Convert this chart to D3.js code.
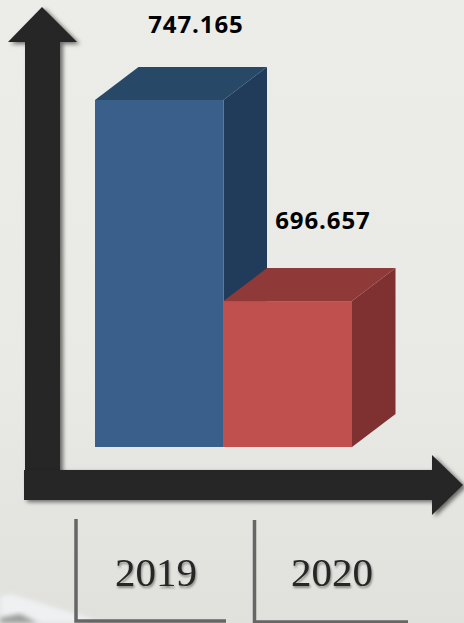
<!DOCTYPE html>
<html><head><meta charset="utf-8">
<script src="https://cdn.jsdelivr.net/npm/d3@7"></script>
<style>html,body{margin:0;padding:0;background:#e9e9e5;overflow:hidden}svg{display:block}</style>
</head><body><svg id="c" width="464" height="623"></svg>
<script>
const categories = ["2019", "2020"];
const values = [747.165, 696.657];
const valueLabels = ["747.165", "696.657"];
const frontColors = ["#3a5f8b", "#c0504d"];
const topColors = ["#274866", "#8f3a38"];
const sideColors = ["#213c5a", "#7e3130"];

const W = 464, H = 623;
const svg = d3.select("#c").attr("viewBox", [0, 0, W, H]);
const defs = svg.append("defs");

const bg = defs.append("linearGradient").attr("id", "bg").attr("x1", 0).attr("y1", 0).attr("x2", 0).attr("y2", 1);
bg.append("stop").attr("offset", 0).attr("stop-color", "#ecece8");
bg.append("stop").attr("offset", 0.6).attr("stop-color", "#e9e9e5");
bg.append("stop").attr("offset", 1).attr("stop-color", "#e0e0dc");

const sh = defs.append("filter").attr("id", "sh").attr("x", "-20%").attr("y", "-20%").attr("width", "140%").attr("height", "140%");
sh.append("feDropShadow").attr("dx", 3).attr("dy", 2).attr("stdDeviation", 2.2).attr("flood-color", "#000").attr("flood-opacity", 0.55);
const ts = defs.append("filter").attr("id", "ts").attr("x", "-20%").attr("y", "-20%").attr("width", "140%").attr("height", "140%");
ts.append("feDropShadow").attr("dx", 1).attr("dy", 2).attr("stdDeviation", 1.3).attr("flood-color", "#000").attr("flood-opacity", 0.4);
const bl = defs.append("filter").attr("id", "bl").attr("x", "-30%").attr("y", "-30%").attr("width", "160%").attr("height", "160%");
bl.append("feGaussianBlur").attr("stdDeviation", 2.5);

svg.append("rect").attr("width", W).attr("height", H).attr("fill", "url(#bg)");
const line = d3.line();
// faint photo texture at the bottom-left corner of the backdrop
svg.append("path").attr("d", line([[0, 596], [12, 594], [50, 606], [90, 618], [100, 623], [0, 623]])).attr("fill", "#eef0f2").attr("filter", "url(#bl)");
svg.append("path").attr("d", line([[0, 618], [20, 614], [38, 623], [0, 623]])).attr("fill", "#9a9b98").attr("filter", "url(#bl)");

const x = d3.scaleBand().domain(categories).range([95, 352]).padding(0);
const y = d3.scaleLinear().domain([660, 747.165]).range([447, 100]);
const dx = 43.5, dy = -33;
const base = y.domain()[0];

// axes arrows
const axes = svg.append("g").attr("fill", "#272727");
axes.append("path").attr("filter", "url(#sh)").attr("d", line([[25, 42], [8, 42], [42, 7], [77, 42], [60, 42], [60, 480], [25, 480]]) + "Z");
axes.append("path").attr("filter", "url(#sh)").attr("d", line([[24, 470], [432, 470], [432, 455], [463, 485], [432, 515], [432, 500], [24, 500]]) + "Z");

// bars
const bars = svg.append("g").selectAll("g").data(categories.map((c, i) => ({c, v: values[i], i}))).join("g");
bars.append("path").attr("fill", d => sideColors[d.i]).attr("d", d => {
  const r = x(d.c) + x.bandwidth();
  return line([[r, y(d.v)], [r + dx, y(d.v) + dy], [r + dx, y(base) + dy], [r, y(base)]]) + "Z";
});
bars.append("path").attr("fill", d => topColors[d.i]).attr("d", d => {
  const l = x(d.c), r = l + x.bandwidth();
  return line([[l, y(d.v)], [l + dx, y(d.v) + dy], [r + dx, y(d.v) + dy], [r, y(d.v)]]) + "Z";
});
bars.append("rect").attr("fill", d => frontColors[d.i])
  .attr("x", d => x(d.c)).attr("y", d => y(d.v)).attr("width", x.bandwidth()).attr("height", d => y(base) - y(d.v));

// value labels
const labelPos = [[196, 25], [323, 221]];
svg.append("g").selectAll("text").data(valueLabels).join("text")
  .attr("x", (d, i) => labelPos[i][0]).attr("y", (d, i) => labelPos[i][1]).attr("dy", "0.35em")
  .attr("text-anchor", "middle").attr("font-family", "'Open Sans','Noto Sans',sans-serif")
  .attr("font-weight", 700).attr("font-size", 24).attr("letter-spacing", 0.9).attr("fill", "#000").text(d => d);

// category brackets
const br = [[76, 519, 621, 226], [254.5, 520, 622, 408]];
svg.append("g").selectAll("path").data(br).join("path")
  .attr("fill", "none").attr("stroke", "#666").attr("stroke-width", 3.5)
  .attr("d", d => line([[d[0], d[1]], [d[0], d[2]], [d[3], d[2]]]));

// category labels
const cx = [156, 332];
svg.append("g").selectAll("text").data(categories).join("text")
  .attr("x", (d, i) => cx[i]).attr("y", 586)
  .attr("text-anchor", "middle").attr("font-family", "'Liberation Serif','DejaVu Serif',serif")
  .attr("font-size", 41).attr("fill", "#252525").attr("filter", "url(#ts)").text(d => d);
</script></body></html>
